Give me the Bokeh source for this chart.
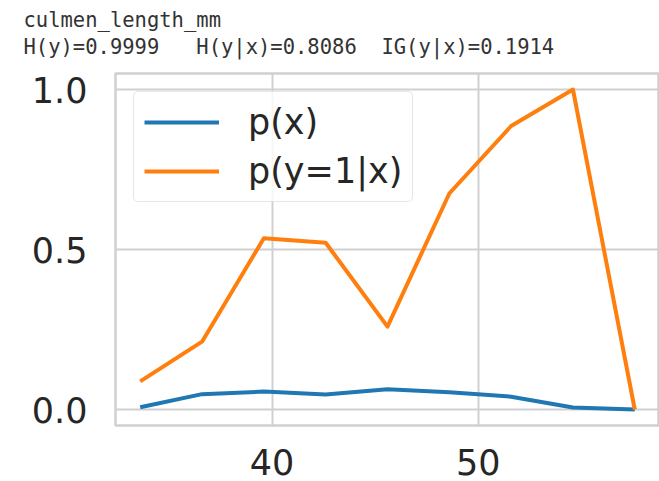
from bokeh.plotting import figure
from bokeh.models import Title, FixedTicker, PrintfTickFormatter, Range1d, Legend, LegendItem
from bokeh.embed import file_html
from bokeh.resources import INLINE

# ---- data ----
x_centers = [33.6, 36.6, 39.6, 42.6, 45.6, 48.6, 51.6, 54.6, 57.6]
p_x = [0.007, 0.048, 0.056, 0.047, 0.063, 0.054, 0.040, 0.006, 0.0]
p_y1_given_x = [0.088, 0.212, 0.535, 0.521, 0.259, 0.675, 0.886, 1.0, 0.0]
feature_name = "culmen_length_mm"
stats_line = "H(y)=0.9999   H(y|x)=0.8086  IG(y|x)=0.1914"
x_ticks = [40, 50]
y_ticks = [0.0, 0.5, 1.0]

# matplotlib-style 5% margins
xmin, xmax = min(x_centers), max(x_centers)
xpad = (xmax - xmin) * 0.05
ymin, ymax = 0.0, 1.0
ypad = (ymax - ymin) * 0.05

TOP, BOTTOM, LEFT = 73, 56, 115

p = figure(width=659, height=481, output_backend="svg", toolbar_location=None,
           x_range=Range1d(xmin - xpad, xmax + xpad),
           y_range=Range1d(ymin - ypad, ymax + ypad),
           min_border_left=LEFT, min_border_right=0,
           min_border_top=TOP, min_border_bottom=BOTTOM)
p.title.visible = False

grid_col = "#d0d0d0"
p.outline_line_color = grid_col
p.outline_line_width = 2.5
p.background_fill_color = "white"
p.border_fill_color = "white"

for g in (p.xgrid, p.ygrid):
    g.grid_line_color = grid_col
    g.grid_line_width = 2
p.xgrid.ticker = FixedTicker(ticks=x_ticks)
p.ygrid.ticker = FixedTicker(ticks=y_ticks)

for ax in (p.xaxis[0], p.yaxis[0]):
    ax.axis_line_color = None
    ax.major_tick_line_color = None
    ax.minor_tick_line_color = None
    ax.major_tick_out = 0
    ax.major_tick_in = 0
    ax.major_label_text_font = "DejaVu Sans"
    ax.major_label_text_font_size = "35px"
    ax.major_label_text_color = "#262626"
p.xaxis[0].ticker = FixedTicker(ticks=x_ticks)
p.yaxis[0].ticker = FixedTicker(ticks=y_ticks)
p.yaxis[0].formatter = PrintfTickFormatter(format="%.1f")
p.xaxis[0].major_label_standoff = 23
p.yaxis[0].major_label_standoff = 28

r1 = p.line(x_centers, p_x, line_color="#1f77b4", line_width=4, line_join="round")
r2 = p.line(x_centers, p_y1_given_x, line_color="#ff7f0e", line_width=4, line_join="round")

legend = Legend(items=[LegendItem(label="p(x)", renderers=[r1]),
                       LegendItem(label="p(y=1|x)", renderers=[r2])],
                location="top_left")
legend.margin = 18
legend.padding = 10
legend.spacing = 9
legend.glyph_width = 75
legend.glyph_height = 36
legend.label_height = 36
legend.label_standoff = 29
legend.label_text_font = "DejaVu Sans"
legend.label_text_font_size = "35px"
legend.label_text_color = "#262626"
legend.border_line_color = "#cccccc"
legend.border_line_width = 1.5
legend.background_fill_alpha = 0.8
if "border_radius" in Legend.properties():
    legend.border_radius = 5
p.add_layout(legend, "center")

nb = lambda s: s.replace(" ", "\u00a0")
tstyle = dict(text_font="DejaVu Sans Mono", text_font_size="20.5px",
              text_font_style="normal", text_color="#333333", align="left", offset=23 - LEFT)
# stacked from the frame outward: spacer, stats line, feature name, spacer
p.add_layout(Title(text="\u00a0", text_font_size="1px", standoff=11), "above")
p.add_layout(Title(text=nb(stats_line), standoff=2, **tstyle), "above")
p.add_layout(Title(text=feature_name, standoff=0, **tstyle), "above")
p.add_layout(Title(text="\u00a0", text_font_size="1px", standoff=2), "above")

open("out.html", "w").write(file_html(p, INLINE))
